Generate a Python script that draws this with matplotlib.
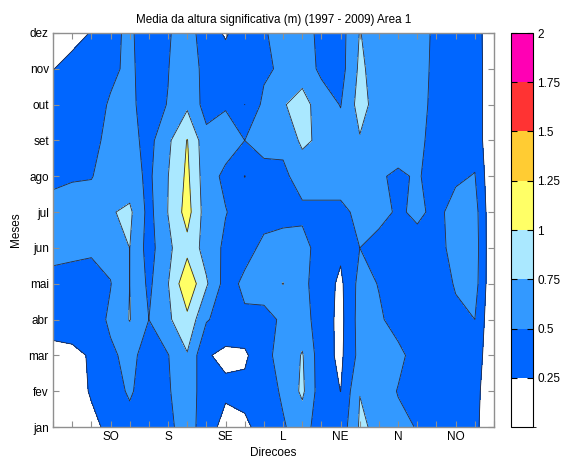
import numpy as np
import matplotlib
matplotlib.use("Agg")
import matplotlib.pyplot as plt
from matplotlib.colors import ListedColormap, BoundaryNorm

plt.rcParams['font.family'] = ['Liberation Sans', 'DejaVu Sans']

meses = ['jan', 'fev', 'mar', 'abr', 'mai', 'jun', 'jul', 'ago', 'set', 'out', 'nov', 'dez']
direcoes = ['SO', 'S', 'SE', 'L', 'NE', 'N', 'NO']
direcao_pos = [4, 7, 10, 13, 16, 19, 22]
niveis = [0, 0.25, 0.5, 0.75, 1.0, 1.25, 1.5, 1.75, 2.0]
cores = ['#ffffff', '#0066ff', '#3399ff', '#aae8ff', '#ffff66', '#ffcc33', '#ff3333', '#ff00b4']

# mean significant height (m), one list per month, 24 direction bins
jan = [0.10, 0.10, 0.20, 0.30, 0.42, 0.40, 0.45, 0.60, 0.38, 0.15, 0.20, 0.35, 0.48, 0.60, 0.38, 0.35, 0.78, 0.71, 0.55, 0.49, 0.38, 0.38, 0.32, 0.0]
fev = [0.15, 0.15, 0.27, 0.40, 0.53, 0.38, 0.48, 0.62, 0.38, 0.30, 0.33, 0.40, 0.53, 0.80, 0.35, 0.248, 0.745, 0.60, 0.49, 0.40, 0.38, 0.38, 0.35, 0.0]
mar = [0.20, 0.20, 0.27, 0.45, 0.58, 0.38, 0.49, 0.73, 0.27, 0.20, 0.20, 0.46, 0.55, 0.77, 0.35, 0.20, 0.58, 0.62, 0.55, 0.42, 0.40, 0.40, 0.42, 0.0]
abr = [0.32, 0.36, 0.35, 0.55, 0.76, 0.50, 0.705, 0.94, 0.52, 0.40, 0.46, 0.40, 0.55, 0.60, 0.38, 0.18, 0.60, 0.53, 0.42, 0.38, 0.38, 0.45, 0.50, 0.0]
mai = [0.45, 0.42, 0.42, 0.49, 0.751, 0.45, 0.74, 1.20, 0.78, 0.40, 0.55, 0.65, 0.755, 0.56, 0.38, 0.20, 0.58, 0.49, 0.38, 0.38, 0.38, 0.52, 0.60, 0.0]
jun = [0.55, 0.55, 0.53, 0.58, 0.752, 0.40, 0.70, 0.92, 0.65, 0.45, 0.42, 0.55, 0.60, 0.58, 0.40, 0.30, 0.50, 0.42, 0.40, 0.42, 0.42, 0.58, 0.62, 0.0]
jul = [0.55, 0.60, 0.60, 0.73, 0.80, 0.42, 0.755, 1.10, 0.62, 0.51, 0.40, 0.42, 0.42, 0.45, 0.45, 0.45, 0.55, 0.57, 0.47, 0.54, 0.45, 0.57, 0.60, 0.0]
ago = [0.47, 0.48, 0.49, 0.60, 0.60, 0.45, 0.745, 1.05, 0.60, 0.45, 0.245, 0.42, 0.45, 0.60, 0.60, 0.60, 0.62, 0.52, 0.47, 0.52, 0.42, 0.47, 0.51, 0.0]
set_ = [0.42, 0.43, 0.45, 0.55, 0.58, 0.42, 0.70, 1.01, 0.58, 0.60, 0.50, 0.58, 0.56, 0.80, 0.70, 0.60, 0.73, 0.62, 0.60, 0.54, 0.44, 0.42, 0.42, 0.0]
out = [0.40, 0.40, 0.42, 0.52, 0.55, 0.40, 0.51, 0.70, 0.40, 0.48, 0.249, 0.56, 0.73, 0.85, 0.62, 0.49, 0.85, 0.63, 0.60, 0.56, 0.45, 0.42, 0.42, 0.0]
nov = [0.24, 0.38, 0.40, 0.46, 0.54, 0.40, 0.49, 0.70, 0.38, 0.38, 0.38, 0.45, 0.55, 0.63, 0.45, 0.40, 0.80, 0.63, 0.60, 0.58, 0.45, 0.42, 0.42, 0.0]
dez = [0.10, 0.12, 0.27, 0.46, 0.53, 0.40, 0.48, 0.60, 0.38, 0.22, 0.40, 0.48, 0.58, 0.58, 0.45, 0.40, 0.76, 0.62, 0.60, 0.60, 0.45, 0.42, 0.40, 0.0]

Z = np.array([jan, fev, mar, abr, mai, jun, jul, ago, set_, out, nov, dez])
ny, nx = Z.shape
x = np.arange(1, nx + 1)
y = np.arange(1, ny + 1)

fig = plt.figure(figsize=(5.61, 4.61), dpi=100)
ax = fig.add_axes([53 / 561, 34 / 461, 441 / 561, 394 / 461])
cmap = ListedColormap(cores)
norm = BoundaryNorm(niveis, cmap.N)
cf = ax.contourf(x, y, Z, levels=niveis, cmap=cmap, norm=norm)
ax.contour(x, y, Z, levels=niveis[1:-1], colors='#2a2a3a', linewidths=0.6)
ax.set_xlim(1, nx)
ax.set_ylim(1, ny)

gray = '#8f8f8f'
for s in ax.spines.values():
    s.set_color(gray)
    s.set_linewidth(1.0)
ax.set_xticks(x)
ax.set_xticklabels([direcoes[direcao_pos.index(i)] if i in direcao_pos else '' for i in x])
ax.set_yticks(y)
ax.set_yticklabels(meses)
ax.tick_params(axis='both', direction='in', length=4, width=0.8, color=gray,
               labelsize=8.5, top=True, right=True, pad=3)
ax.set_xlabel('Direcoes', fontsize=8.5, labelpad=3)
ax.set_ylabel('Meses', fontsize=8.5, labelpad=5)
ax.set_title('Media da altura significativa (m) (1997 - 2009) Area 1', fontsize=8.4, pad=7)

cax = fig.add_axes([511 / 561, 34 / 461, 22 / 561, 394 / 461])
cb = fig.colorbar(cf, cax=cax, ticks=niveis[1:])
cb.ax.set_yticklabels(['0.25', '0.5', '0.75', '1', '1.25', '1.5', '1.75', '2'])
cb.outline.set_edgecolor('black')
cb.outline.set_linewidth(0.8)
cb.ax.tick_params(direction='in', length=4, width=0.8, labelsize=8.5, left=True, right=True, pad=3)

fig.savefig('out.png', dpi=100)
